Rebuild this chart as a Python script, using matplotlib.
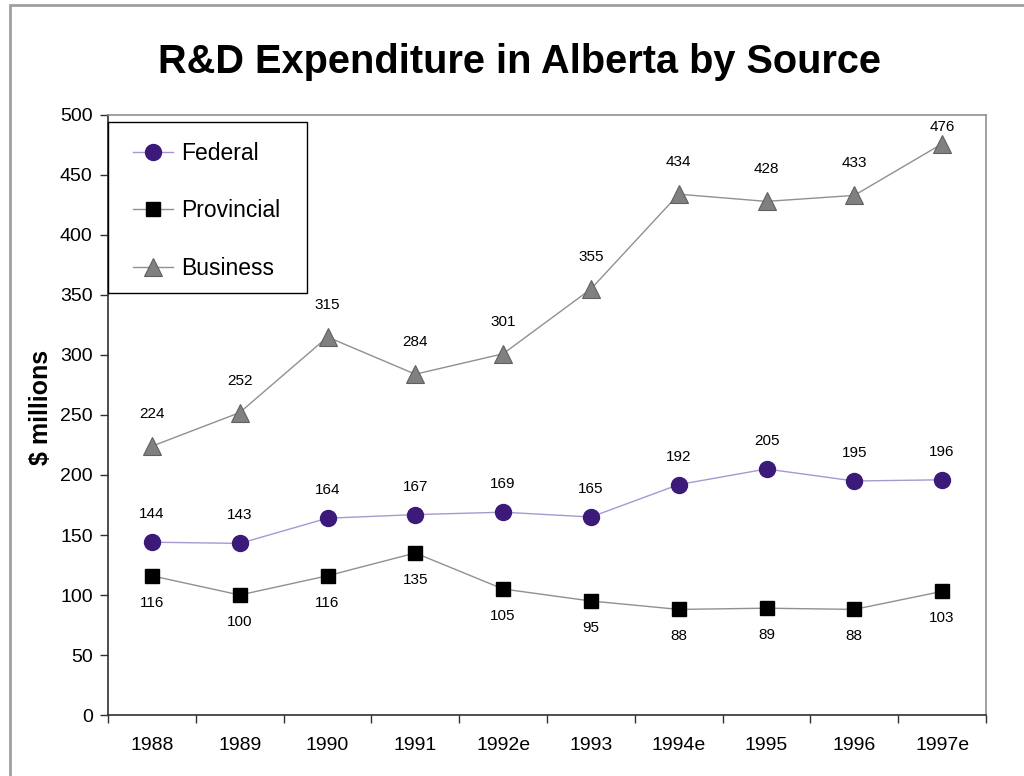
import matplotlib
matplotlib.use("Agg")
import matplotlib.pyplot as plt
from matplotlib.patches import Rectangle
import numpy as np

plt.rcParams['font.family'] = ['Liberation Sans', 'DejaVu Sans']

years = ["1988", "1989", "1990", "1991", "1992e", "1993", "1994e", "1995", "1996", "1997e"]
federal = [144, 143, 164, 167, 169, 165, 192, 205, 195, 196]
provincial = [116, 100, 116, 135, 105, 95, 88, 89, 88, 103]
business = [224, 252, 315, 284, 301, 355, 434, 428, 433, 476]

fig = plt.figure(figsize=(10.24, 7.76), dpi=100)
ax = fig.add_axes([108/1024, 1-715/776, 878/1024, 600/776])

x = np.arange(len(years))

ax.plot(x, federal, color='#a898d0', lw=1.0, marker='o', ms=11.5,
        mfc='#3c1a7a', mec='#3c1a7a', label='Federal', zorder=3)
ax.plot(x, provincial, color='#909090', lw=1.0, marker='s', ms=9.5,
        mfc='black', mec='black', label='Provincial', zorder=3)
ax.plot(x, business, color='#909090', lw=1.0, marker='^', ms=13,
        mfc='#808080', mec='#606060', mew=0.8, label='Business', zorder=3)

ax.set_xlim(-0.5, len(years) - 0.5)
ax.set_ylim(0, 500)
ax.set_yticks(np.arange(0, 501, 50))
ax.set_xticks(x)
ax.set_xticklabels(years)
ax.set_xticks(np.arange(-0.5, len(years), 1.0), minor=True)
ax.tick_params(axis='x', which='major', length=0, labelsize=14, pad=16)
ax.tick_params(axis='x', which='minor', length=6, width=1, color='#303030', direction='out')
ax.tick_params(axis='y', length=6, width=1, color='#303030', labelsize=14, pad=5)

for s in ['left', 'bottom']:
    ax.spines[s].set_color('#303030')
    ax.spines[s].set_linewidth(1.2)
for s in ['top', 'right']:
    ax.spines[s].set_color('#909090')
    ax.spines[s].set_linewidth(1.2)

fig.text(41.5/1024, 1-407/776, '$ millions', rotation=90, ha='center', va='center',
         fontsize=18, fontweight='bold')

fig.text(520/1024, 1-62/776, 'R&D Expenditure in Alberta by Source',
         ha='center', va='center', fontsize=28.6, fontweight='bold')

# data labels
fig.canvas.draw()
top_px = ax.transData.transform((0, 500))[1]

def add_labels(vals, off_px):
    for xi, v in zip(x, vals):
        px, py = ax.transData.transform((xi, v))
        ly = py + off_px
        if ly > top_px - 12:
            ly = top_px - 12
        dx, dy = ax.transData.inverted().transform((px, ly))
        ax.text(xi, dy, str(v), ha='center', va='center', fontsize=11)

add_labels(federal, 28)
add_labels(provincial, -27)
add_labels(business, 32)

# legend (frame drawn separately to match the box proportions)
leg = ax.legend(loc='upper left', bbox_to_anchor=(25/878, (715-142)/600), fontsize=16.5,
                frameon=False, borderaxespad=0, handlelength=1.75, handletextpad=0.35,
                labelspacing=1.5, borderpad=0)
ax.add_patch(Rectangle((0, (715-293)/600), 199/878, (293-122)/600, transform=ax.transAxes,
                       fill=True, facecolor='white', edgecolor='black', lw=1.0, zorder=4,
                       clip_on=False))
leg.set_zorder(5)

# figure border (grey frame partially cut off)
fig.patches.append(Rectangle((10/1024, -0.1), 1.2, 1.1 - 5/776, transform=fig.transFigure,
                             fill=False, edgecolor='#a0a0a0', lw=2.0))

fig.savefig('out.png', dpi=100)
